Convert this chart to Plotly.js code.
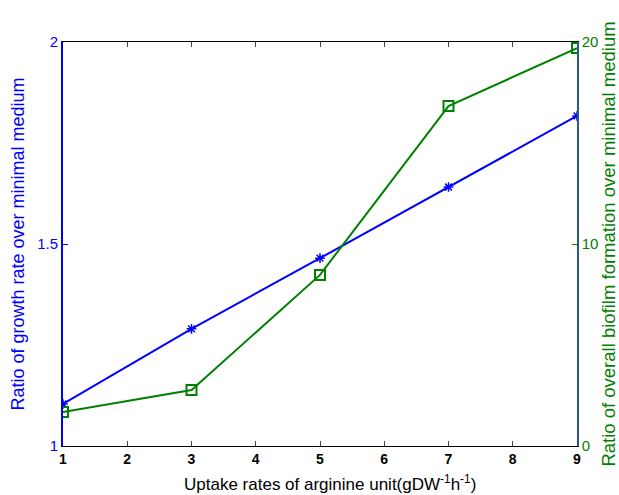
<!DOCTYPE html>
<html><head><meta charset="utf-8">
<script src="https://cdn.plot.ly/plotly-3.0.1.min.js"></script>
<style>html,body{margin:0;padding:0;background:#fff}#chart{width:619px;height:495px}</style>
</head><body><div id="chart"></div>
<script>
const uptake = [1, 3, 5, 7, 9];
const growthRatio = [1.104, 1.29, 1.465, 1.641, 1.817];
const biofilmRatio = [1.68, 2.77, 8.47, 16.83, 19.70];
const xTicks = [1, 2, 3, 4, 5, 6, 7, 8, 9];
const leftTicks = [1, 1.5, 2];
const rightTicks = [0, 10, 20];

const font = 'Liberation Sans, Arial, sans-serif';
const traces = [
  {x: uptake, y: growthRatio, type: 'scatter', mode: 'lines+markers', yaxis: 'y',
   line: {color: '#0000ff', width: 2}, marker: {symbol: 'asterisk-open', size: 8, color: '#0000ff', line: {color: '#0000ff', width: 1.5}}},
  {x: uptake, y: biofilmRatio, type: 'scatter', mode: 'lines+markers', yaxis: 'y2',
   line: {color: '#008000', width: 2}, marker: {symbol: 'square-open', size: 10, color: '#008000', line: {color: '#008000', width: 2}}}
];
const layout = {
  width: 619, height: 495,
  margin: {l: 63, r: 42, t: 42, b: 49},
  paper_bgcolor: '#fff', plot_bgcolor: '#fff',
  showlegend: false,
  font: {family: font, size: 14},
  xaxis: {range: [1, 9], tickmode: 'array', tickvals: xTicks, ticktext: xTicks.map(String), ticks: 'inside', ticklen: 5,
    showline: true, linecolor: '#000', linewidth: 1, mirror: 'ticks', showgrid: false, zeroline: false,
    tickfont: {size: 14, color: '#000', weight: 'bold'}},
  yaxis: {range: [1, 2], tickmode: 'array', tickvals: leftTicks, ticktext: ['1', '1.5', '2'], ticks: 'inside', ticklen: 5,
    showline: true, linecolor: '#0000ff', linewidth: 2, showgrid: false, zeroline: false,
    tickfont: {size: 15, color: '#0000ff'}, tickcolor: '#0000ff',
    title: {text: 'Ratio of growth rate over minimal medium', font: {size: 18, color: '#0000ff'}, standoff: 8}},
  yaxis2: {range: [0, 20], tickmode: 'array', tickvals: rightTicks, ticktext: rightTicks.map(String), overlaying: 'y', side: 'right',
    ticks: 'inside', ticklen: 5, showline: true, linecolor: '#2a5a80', linewidth: 1.5, showgrid: false, zeroline: false,
    tickfont: {size: 15, color: '#008000'}, tickcolor: '#008000',
    title: {text: 'Ratio of overall biofilm formation over minimal medium', font: {size: 18.5, color: '#008000'}, standoff: 8}},
  annotations: [{
    text: 'Uptake rates of arginine unit(gDW<sup>-1</sup>h<sup>-1</sup>)', xref: 'paper', yref: 'paper',
    x: 0.5, y: 0, xanchor: 'center', yanchor: 'middle', xshift: 10, yshift: -37, showarrow: false,
    font: {size: 17, color: '#000'}
  }]
};
Plotly.newPlot('chart', traces, layout, {displayModeBar: false});
</script></body></html>
